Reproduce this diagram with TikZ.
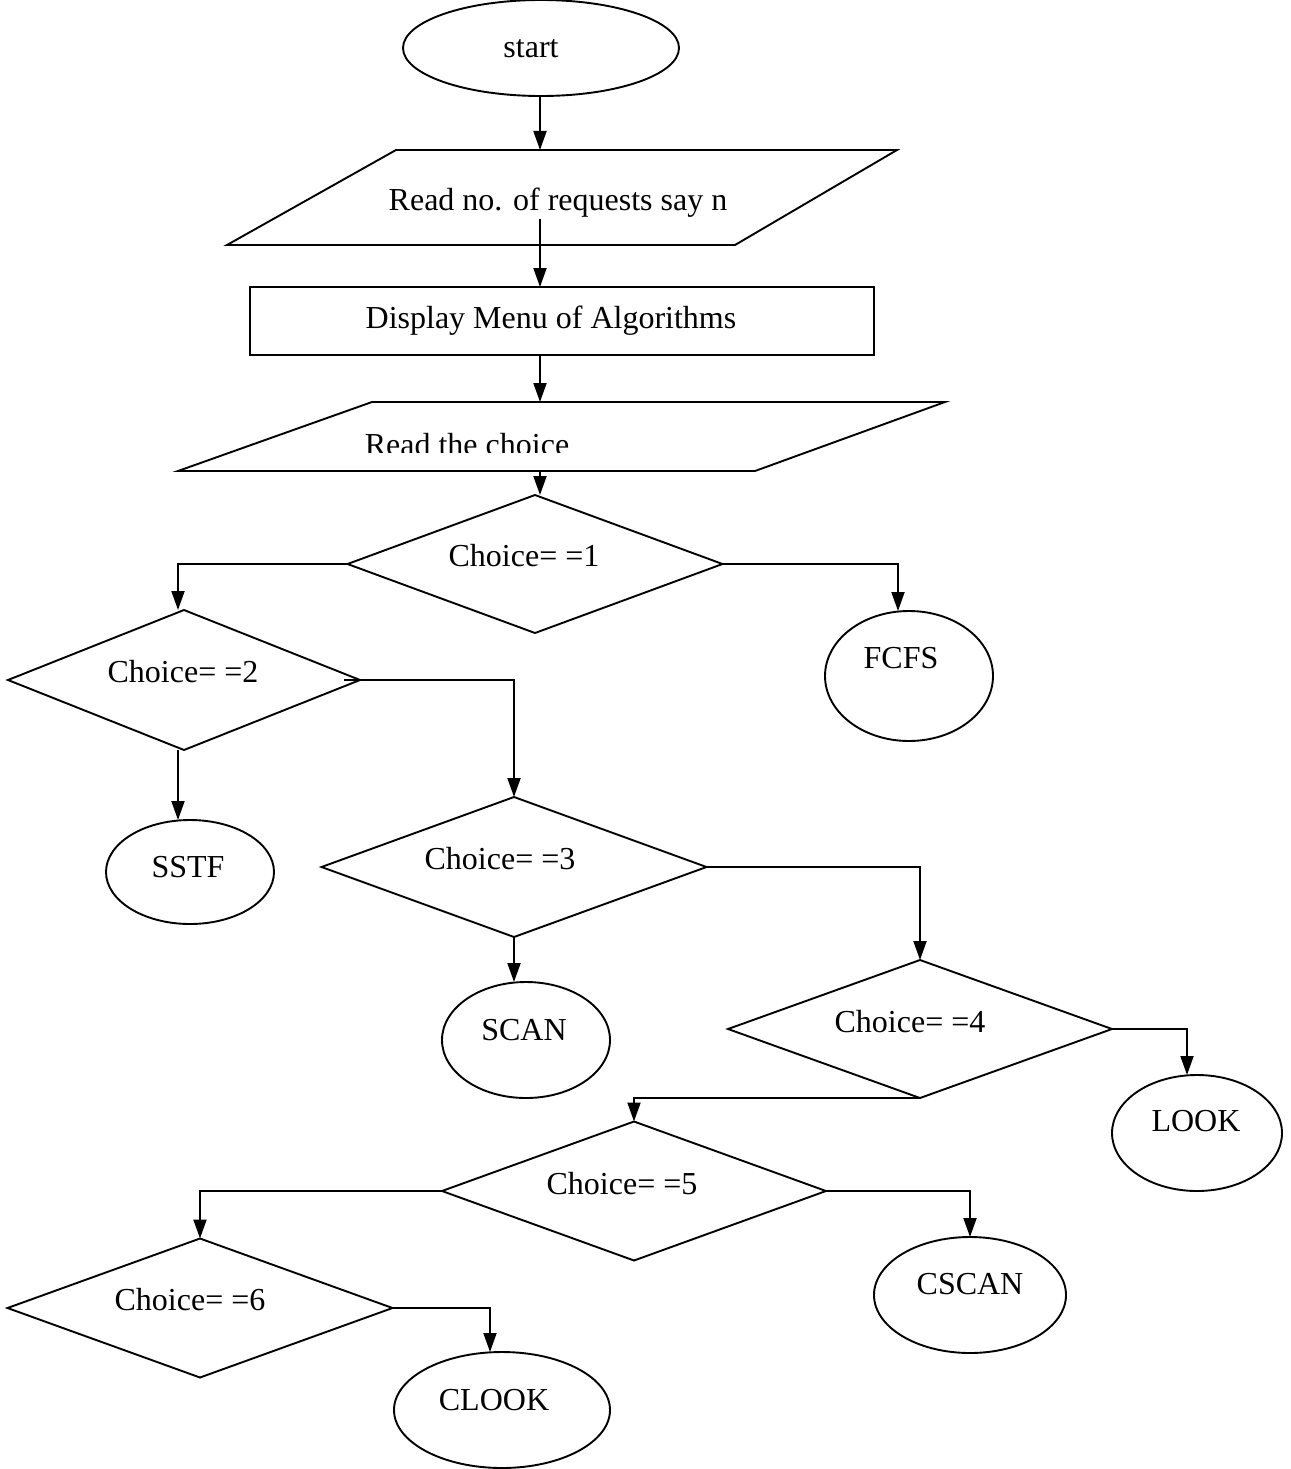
\documentclass[tikz,border=0pt]{standalone}
\usepackage{fontspec}
\setmainfont{Liberation Serif}
\usetikzlibrary{shapes.geometric,arrows.meta}
\tikzset{
  shp/.style={draw=black, line width=1.9pt, inner sep=0pt, outer sep=0pt},
  dmd/.style n args={2}{shp, diamond, minimum width=#1pt, minimum height=#2pt},
  ell/.style n args={2}{shp, ellipse, minimum width=#1pt, minimum height=#2pt},
  txt/.style={anchor=base, inner sep=0pt, font=\fontsize{32}{38}\selectfont},
  conn/.style={line width=1.9pt, -{Triangle[length=19pt,width=13pt]}},
  plain/.style={line width=1.9pt}
}
\begin{document}
\begin{tikzpicture}[x=1pt,y=-1pt]
\useasboundingbox (0,0) rectangle (1290,1469);
% start
\node[ell={276}{96}] (start) at (541,48) {};
\node[txt] (startt) at (531,58) {start};
% parallelogram 1
\draw[plain, line join=miter] (396,150) -- (897,150) -- (735,245) -- (227,245) -- cycle;
\coordinate (p1top) at (540,150);
\coordinate (p1in) at (540,219);
\node[txt] (p1t) at (558,210) {Read no. of requests say n};
% rectangle
\node[shp, rectangle, minimum width=624pt, minimum height=68pt] (menu) at (562,321) {};
\node[txt] (menut) at (551,328) {Display Menu of Algorithms};
% parallelogram 2
\draw[plain, line join=miter] (372,402) -- (945,402) -- (755,471) -- (178,471) -- cycle;
\coordinate (p2top) at (540,402);
\coordinate (p2bot) at (540,471);
\begin{scope}
\clip (0,0) rectangle (1290,452);
\node[txt] (p2t) at (467,455) {Read the choice};
\end{scope}
% diamonds
\node[dmd={375}{138}] (d1) at (535,564) {};
\node[txt] (d1t) at (524,566) {Choice= =1};
\node[dmd={352}{140}] (d2) at (184,680) {};
\node[txt] (d2t) at (183,682) {Choice= =2};
\node[dmd={385}{140}] (d3) at (514,867) {};
\node[txt] (d3t) at (500,869) {Choice= =3};
\node[dmd={384}{138}] (d4) at (920,1029) {};
\node[txt] (d4t) at (910,1032) {Choice= =4};
\node[dmd={384}{139}] (d5) at (634,1191) {};
\node[txt] (d5t) at (622,1194) {Choice= =5};
\node[dmd={385}{139}] (d6) at (200,1308) {};
\node[txt] (d6t) at (190,1310) {Choice= =6};
% terminals
\node[ell={168}{130}] (fcfs) at (909,676) {};
\node[txt] (fcfst) at (901,668) {FCFS};
\node[ell={168}{104}] (sstf) at (190,872) {};
\node[txt] (sstft) at (188,877) {SSTF};
\node[ell={168}{116}] (scan) at (526,1040) {};
\node[txt] (scant) at (524,1040) {SCAN};
\node[ell={170}{116}] (look) at (1197,1133) {};
\node[txt] (lookt) at (1196,1131) {LOOK};
\node[ell={192}{116}] (cscan) at (970,1295) {};
\node[txt] (cscant) at (970,1294) {CSCAN};
\node[ell={216}{116}] (clook) at (502,1410) {};
\node[txt] (clookt) at (494,1410) {CLOOK};
% connectors
\draw[conn] (start.south -| p1top) -- (p1top);
\draw[conn] (p1in) -- (p1in |- menu.north);
\draw[conn] (menu.south -| p2top) -- (p2top);
\draw[conn] (p2bot) -- (p2bot |- d1.north);
\draw[conn] (d1.west) -| ([xshift=-6pt]d2.north);
\draw[conn] (d1.east) -| ([xshift=-11pt]fcfs.north);
\draw[conn] ([xshift=-6pt]d2.south) -- ([xshift=-6pt]d2.south |- sstf.north);
\draw[conn] ([xshift=-16pt]d2.east) -- (d2.east) -| (d3.north);
\draw[conn] (d3.south) -- (d3.south |- scan.north);
\draw[conn] (d3.east) -| (d4.north);
\draw[conn] (d4.east) -| ([xshift=-10pt]look.north);
\draw[conn] (d4.south) -| (d5.north);
\draw[conn] (d5.west) -| (d6.north);
\draw[conn] (d5.east) -| (cscan.north);
\draw[conn] (d6.east) -| ([xshift=-12pt]clook.north);
\end{tikzpicture}
\end{document}
